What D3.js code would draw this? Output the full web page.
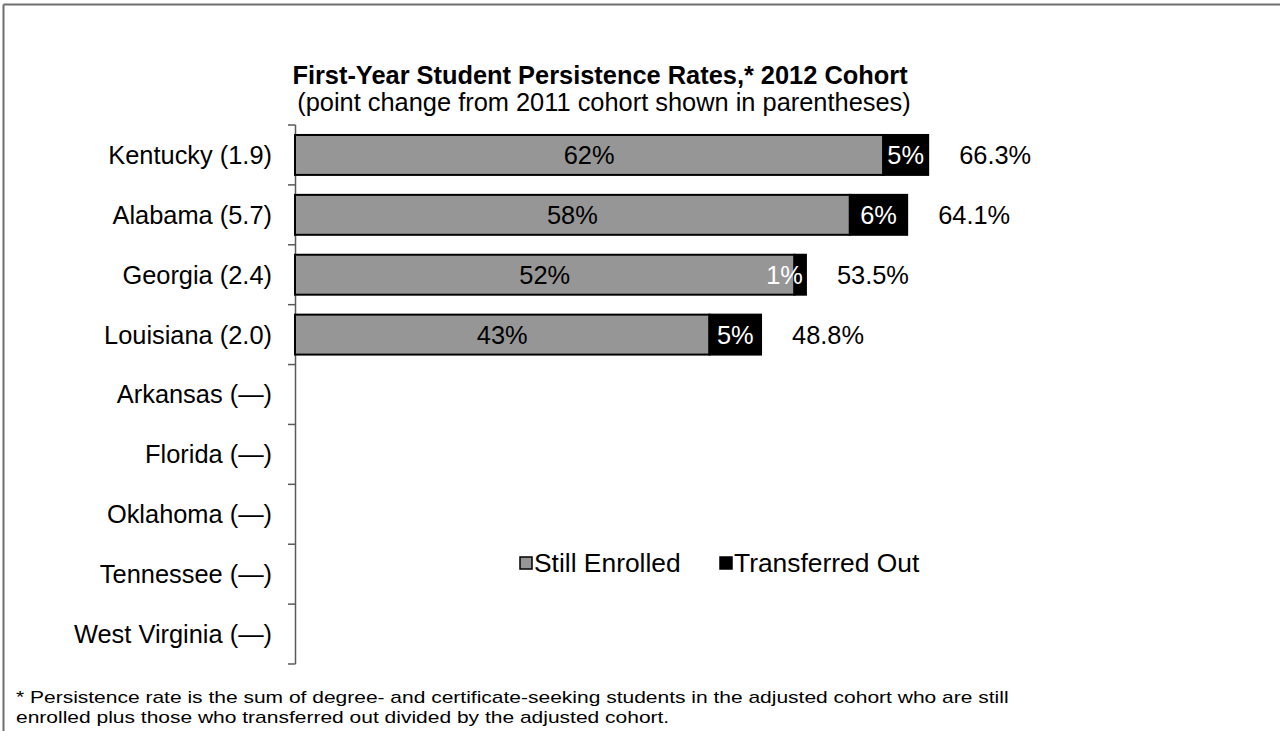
<!DOCTYPE html>
<html>
<head>
<meta charset="utf-8">
<script src="https://cdn.jsdelivr.net/npm/d3@7"></script>
<style>
  html, body { margin: 0; padding: 0; background: #fff; }
  svg { display: block; font-family: "Liberation Sans", Arial, sans-serif; }
</style>
</head>
<body>
<svg id="chart" width="1280" height="731"></svg>
<script>
const categories = ["Kentucky (1.9)", "Alabama (5.7)", "Georgia (2.4)", "Louisiana (2.0)",
  "Arkansas (—)", "Florida (—)", "Oklahoma (—)", "Tennessee (—)", "West Virginia (—)"];
const stillEnrolled = [61.6, 58.1, 52.3, 43.4, null, null, null, null, null];
const transferredOut = [4.7, 6.0, 1.2, 5.4, null, null, null, null, null];
const totals = [66.3, 64.1, 53.5, 48.8, null, null, null, null, null];
const seriesNames = ["Still Enrolled", "Transferred Out"];
const seriesColors = ["#969696", "#000000"];
const titleText = "First-Year Student Persistence Rates,* 2012 Cohort";
const subtitleText = "(point change from 2011 cohort shown in parentheses)";
const footnoteLines = [
  "* Persistence rate is the sum of degree- and certificate-seeking students in the adjusted cohort who are still",
  "enrolled plus those who transferred out divided by the adjusted cohort."
];

const svg = d3.select("#chart");
const FS = 25.4;

// frame (top and left edges)
svg.append("line").attr("x1", 3.5).attr("x2", 1280).attr("y1", 4.5).attr("y2", 4.5)
  .attr("stroke", "#6e6e6e").attr("stroke-width", 2);
svg.append("line").attr("x1", 3.5).attr("x2", 3.5).attr("y1", 4.5).attr("y2", 731)
  .attr("stroke", "#6e6e6e").attr("stroke-width", 2);

// titles
svg.append("text").attr("x", 600).attr("y", 84).attr("text-anchor", "middle")
  .attr("font-size", FS).attr("font-weight", "bold").attr("fill", "#000").text(titleText);
svg.append("text").attr("x", 604).attr("y", 111).attr("text-anchor", "middle")
  .attr("font-size", FS).attr("fill", "#000").text(subtitleText);

// scales
const y = d3.scaleBand().domain(categories).range([125, 664]).paddingInner(0.333).paddingOuter(0.1665);
const x = d3.scaleLinear().domain([0, 80]).range([295, 295 + 764]);

// axis line + ticks at band boundaries
const y0 = y.range()[0];
const bandEdge = i => y0 + i * (y.range()[1] - y0) / categories.length;
svg.append("line").attr("x1", 295.5).attr("x2", 295.5).attr("y1", y0).attr("y2", y.range()[1])
  .attr("stroke", "#5a5a5a").attr("stroke-width", 1.5);
svg.selectAll(".tick").data(d3.range(categories.length + 1)).enter().append("line")
  .attr("x1", 288).attr("x2", 295.5)
  .attr("y1", bandEdge).attr("y2", bandEdge)
  .attr("stroke", "#5a5a5a").attr("stroke-width", 1.5);

// category labels
svg.selectAll(".cat").data(categories).enter().append("text")
  .attr("x", 272).attr("y", d => y(d) + y.bandwidth() / 2)
  .attr("dy", "0.35em").attr("text-anchor", "end").attr("font-size", FS).attr("fill", "#000")
  .text(d => d);

// bars
const rows = categories.map((c, i) => ({ c, s: stillEnrolled[i], t: transferredOut[i], tot: totals[i] }))
  .filter(r => r.s != null);

const g = svg.append("g");
rows.forEach(r => {
  const yy = y(r.c), h = y.bandwidth();
  g.append("rect").attr("x", x(0)).attr("y", yy).attr("width", x(r.s) - x(0)).attr("height", h)
    .attr("fill", seriesColors[0]).attr("stroke", "#000").attr("stroke-width", 2);
  g.append("rect").attr("x", x(r.s)).attr("y", yy).attr("width", x(r.s + r.t) - x(r.s)).attr("height", h)
    .attr("fill", seriesColors[1]).attr("stroke", "#000").attr("stroke-width", 2);
  g.append("text").attr("x", (x(0) + x(r.s)) / 2).attr("y", yy + h / 2).attr("dy", "0.35em")
    .attr("text-anchor", "middle").attr("font-size", FS).attr("fill", "#000")
    .text(Math.round(r.s) + "%");
  const tl = g.append("text").attr("y", yy + h / 2).attr("dy", "0.35em")
    .attr("text-anchor", "middle").attr("font-size", FS).attr("fill", "#fff")
    .text(Math.round(r.t) + "%");
  const w = tl.node().getComputedTextLength();
  let cx = (x(r.s) + x(r.s + r.t)) / 2;
  const maxCx = x(r.s + r.t) - 3 - w / 2;
  if (cx > maxCx) cx = maxCx;
  tl.attr("x", cx);
  g.append("text").attr("x", x(r.tot) + 31).attr("y", yy + h / 2).attr("dy", "0.35em")
    .attr("text-anchor", "start").attr("font-size", FS).attr("fill", "#000")
    .text(r.tot.toFixed(1) + "%");
});

// legend
const legendX = [520, 720];
seriesNames.forEach((n, i) => {
  svg.append("rect").attr("x", legendX[i]).attr("y", 557).attr("width", 12).attr("height", 12)
    .attr("fill", seriesColors[i]).attr("stroke", "#000").attr("stroke-width", 1.5);
  svg.append("text").attr("x", legendX[i] + 14).attr("y", 563).attr("dy", "0.35em")
    .attr("font-size", 26.4).attr("fill", "#000").text(n);
});

// footnote (slightly condensed vertically, as in the reference)
footnoteLines.forEach((t, i) => {
  svg.append("text").attr("transform", `translate(16,${703 + i * 19.5}) scale(1,0.82)`)
    .attr("font-size", 21).attr("fill", "#000").text(t);
});
</script>
</body>
</html>
